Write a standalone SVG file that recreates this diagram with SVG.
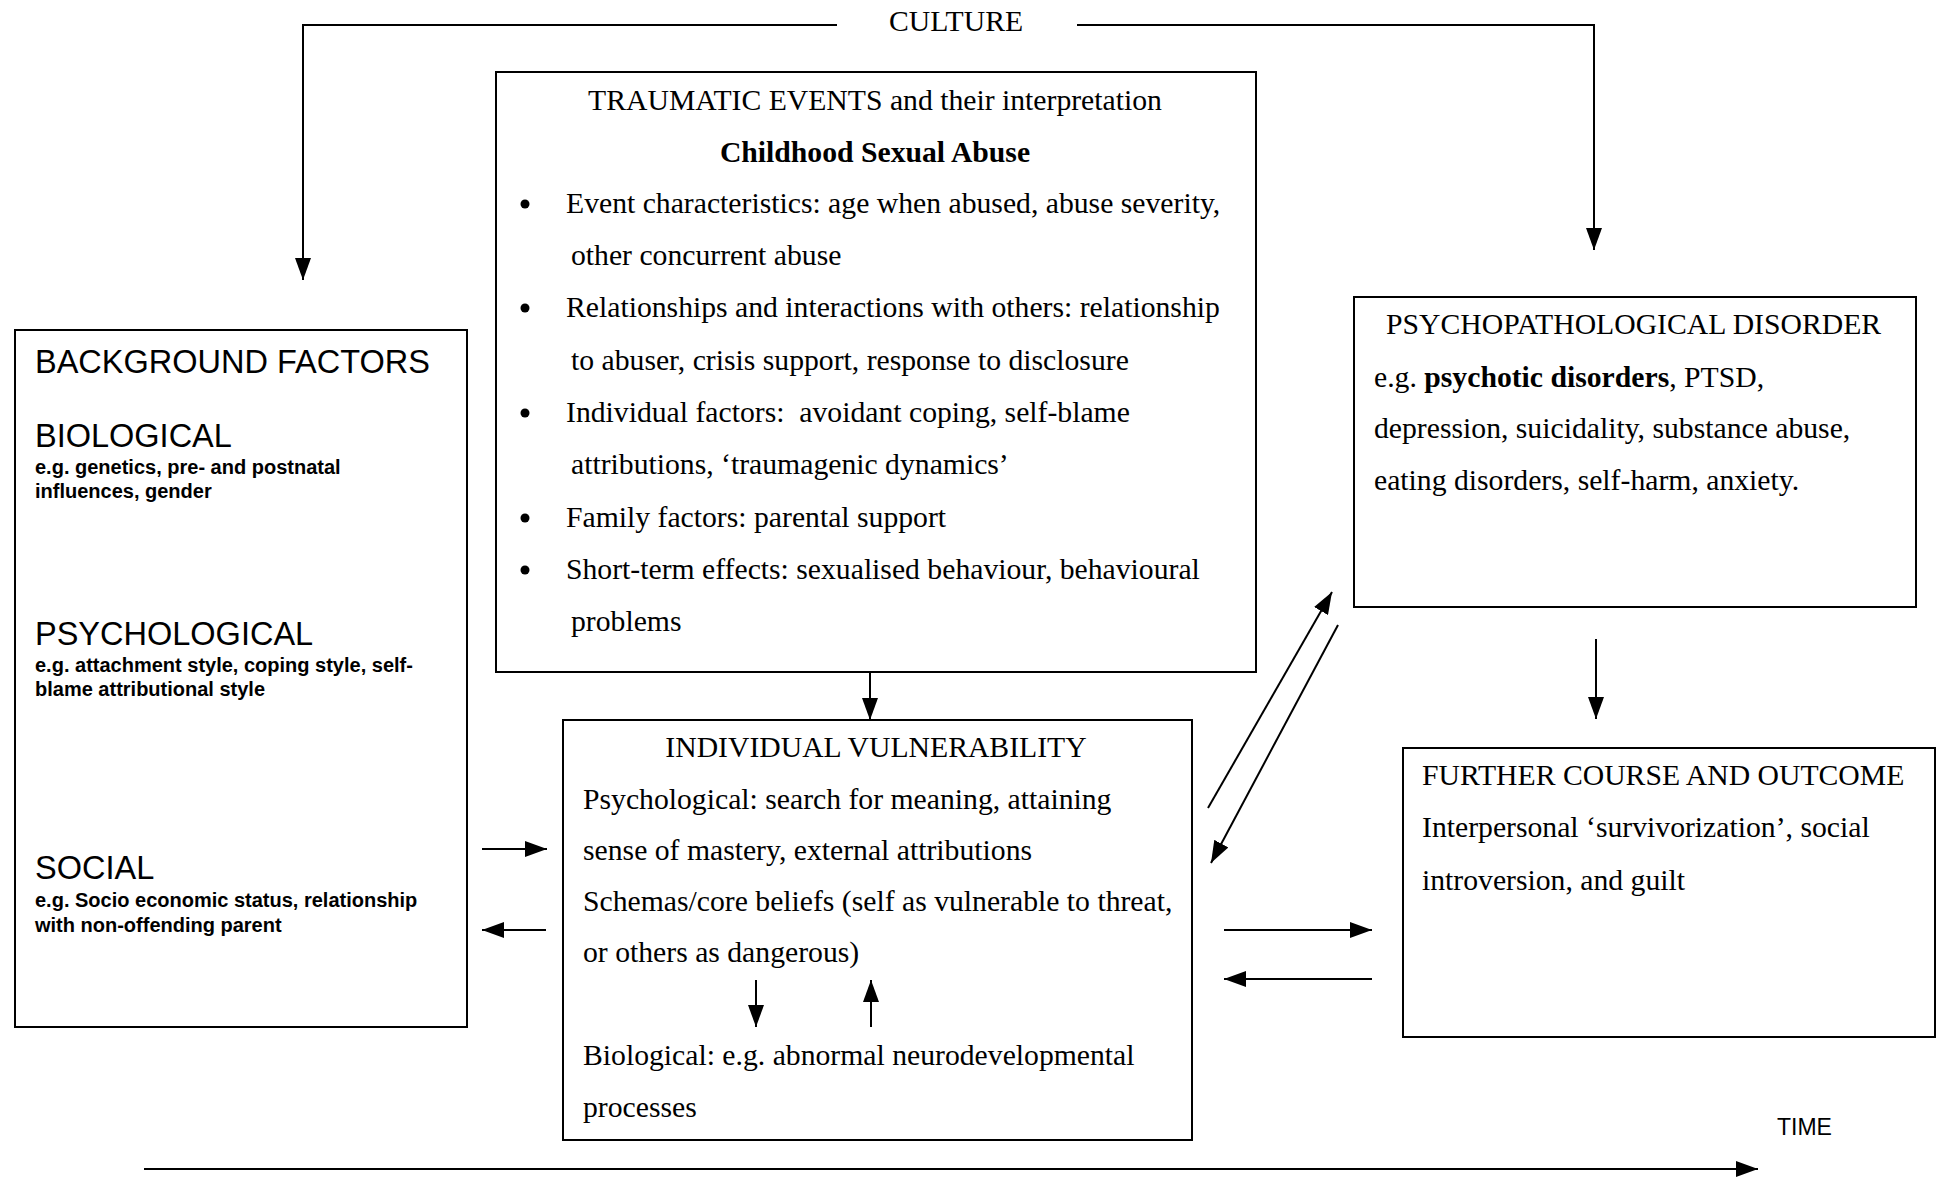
<svg xmlns="http://www.w3.org/2000/svg" width="1941" height="1180" viewBox="0 0 1941 1180">
<style>
.box{fill:none;stroke:#000;stroke-width:2}
.t{font-family:"Liberation Serif","Times New Roman",serif;font-size:29.7px;fill:#000}
.b{font-weight:bold}
.h{font-family:"Liberation Sans",Arial,sans-serif;font-size:32.5px;fill:#000}
.s{font-family:"Liberation Sans",Arial,sans-serif;font-size:20px;font-weight:bold;fill:#000}
.c{fill:none;stroke:#000;stroke-width:2}
.m{text-anchor:middle}
</style>
<defs>
<marker id="ah" viewBox="0 0 22 16" refX="22" refY="8" markerWidth="22" markerHeight="16" markerUnits="userSpaceOnUse" orient="auto">
<path d="M0,0 L22,8 L0,16 Z" fill="#000"/>
</marker>
</defs>
<rect width="1941" height="1180" fill="#fff"/>

<g id="culture">
<text class="t m" x="956" y="31">CULTURE</text>
</g>

<g id="background">
<rect class="box" x="15" y="330" width="452" height="697"/>
<text class="h" x="35" y="373">BACKGROUND FACTORS</text>
<text class="h" x="35" y="447">BIOLOGICAL</text>
<text class="s" x="35" y="474">e.g. genetics, pre- and postnatal</text>
<text class="s" x="35" y="498">influences, gender</text>
<text class="h" x="35" y="645">PSYCHOLOGICAL</text>
<text class="s" x="35" y="672">e.g. attachment style, coping style, self-</text>
<text class="s" x="35" y="696">blame attributional style</text>
<text class="h" x="35" y="879">SOCIAL</text>
<text class="s" x="35" y="907">e.g. Socio economic status, relationship</text>
<text class="s" x="35" y="932">with non-offending parent</text>
</g>

<g id="traumatic">
<rect class="box" x="496" y="72" width="760" height="600"/>
<text class="t m" x="875" y="110">TRAUMATIC EVENTS and their interpretation</text>
<text class="t b m" x="875" y="162">Childhood Sexual Abuse</text>
<circle cx="525" cy="204" r="4.5"/>
<circle cx="525" cy="308" r="4.5"/>
<circle cx="525" cy="413" r="4.5"/>
<circle cx="525" cy="518" r="4.5"/>
<circle cx="525" cy="570" r="4.5"/>
<text class="t" x="566" y="213">Event characteristics: age when abused, abuse severity,</text>
<text class="t" x="571" y="265">other concurrent abuse</text>
<text class="t" x="566" y="317">Relationships and interactions with others: relationship</text>
<text class="t" x="571" y="370">to abuser, crisis support, response to disclosure</text>
<text class="t" x="566" y="422" xml:space="preserve">Individual factors:  avoidant coping, self-blame</text>
<text class="t" x="571" y="474">attributions, ‘traumagenic dynamics’</text>
<text class="t" x="566" y="527">Family factors: parental support</text>
<text class="t" x="566" y="579">Short-term effects: sexualised behaviour, behavioural</text>
<text class="t" x="571" y="631">problems</text>
</g>

<g id="vulnerability">
<rect class="box" x="563" y="720" width="629" height="420"/>
<text class="t m" x="876" y="757">INDIVIDUAL VULNERABILITY</text>
<text class="t" x="583" y="809">Psychological: search for meaning, attaining</text>
<text class="t" x="583" y="860">sense of mastery, external attributions</text>
<text class="t" x="583" y="911">Schemas/core beliefs (self as vulnerable to threat,</text>
<text class="t" x="583" y="962">or others as dangerous)</text>
<text class="t" x="583" y="1065">Biological: e.g. abnormal neurodevelopmental</text>
<text class="t" x="583" y="1117">processes</text>
</g>

<g id="psychopathological">
<rect class="box" x="1354" y="297" width="562" height="310"/>
<text class="t" x="1386" y="334">PSYCHOPATHOLOGICAL DISORDER</text>
<text class="t" x="1374" y="387">e.g. <tspan class="b">psychotic disorders</tspan>, PTSD,</text>
<text class="t" x="1374" y="438">depression, suicidality, substance abuse,</text>
<text class="t" x="1374" y="490">eating disorders, self-harm, anxiety.</text>
</g>

<g id="outcome">
<rect class="box" x="1403" y="748" width="532" height="289"/>
<text class="t" x="1422" y="785">FURTHER COURSE AND OUTCOME</text>
<text class="t" x="1422" y="837">Interpersonal ‘survivorization’, social</text>
<text class="t" x="1422" y="890">introversion, and guilt</text>
</g>

<g id="time">
<text font-family="Liberation Sans, Arial, sans-serif" font-size="23" x="1777" y="1135">TIME</text>
</g>

<g id="connectors">
<path class="c" d="M837 25 H303 V280" marker-end="url(#ah)"/>
<path class="c" d="M1077 25 H1594 V250" marker-end="url(#ah)"/>
<path class="c" d="M870 672 V720" marker-end="url(#ah)"/>
<path class="c" d="M482 849 H547" marker-end="url(#ah)"/>
<path class="c" d="M546 930 H482" marker-end="url(#ah)"/>
<path class="c" d="M1208 808 L1332 592" marker-end="url(#ah)"/>
<path class="c" d="M1338 625 L1211 863" marker-end="url(#ah)"/>
<path class="c" d="M1224 930 H1372" marker-end="url(#ah)"/>
<path class="c" d="M1372 979 H1224" marker-end="url(#ah)"/>
<path class="c" d="M1596 639 V719" marker-end="url(#ah)"/>
<path class="c" d="M756 980 V1027" marker-end="url(#ah)"/>
<path class="c" d="M871 1027 V980" marker-end="url(#ah)"/>
<path class="c" d="M144 1169 H1758" marker-end="url(#ah)"/>
</g>
</svg>
